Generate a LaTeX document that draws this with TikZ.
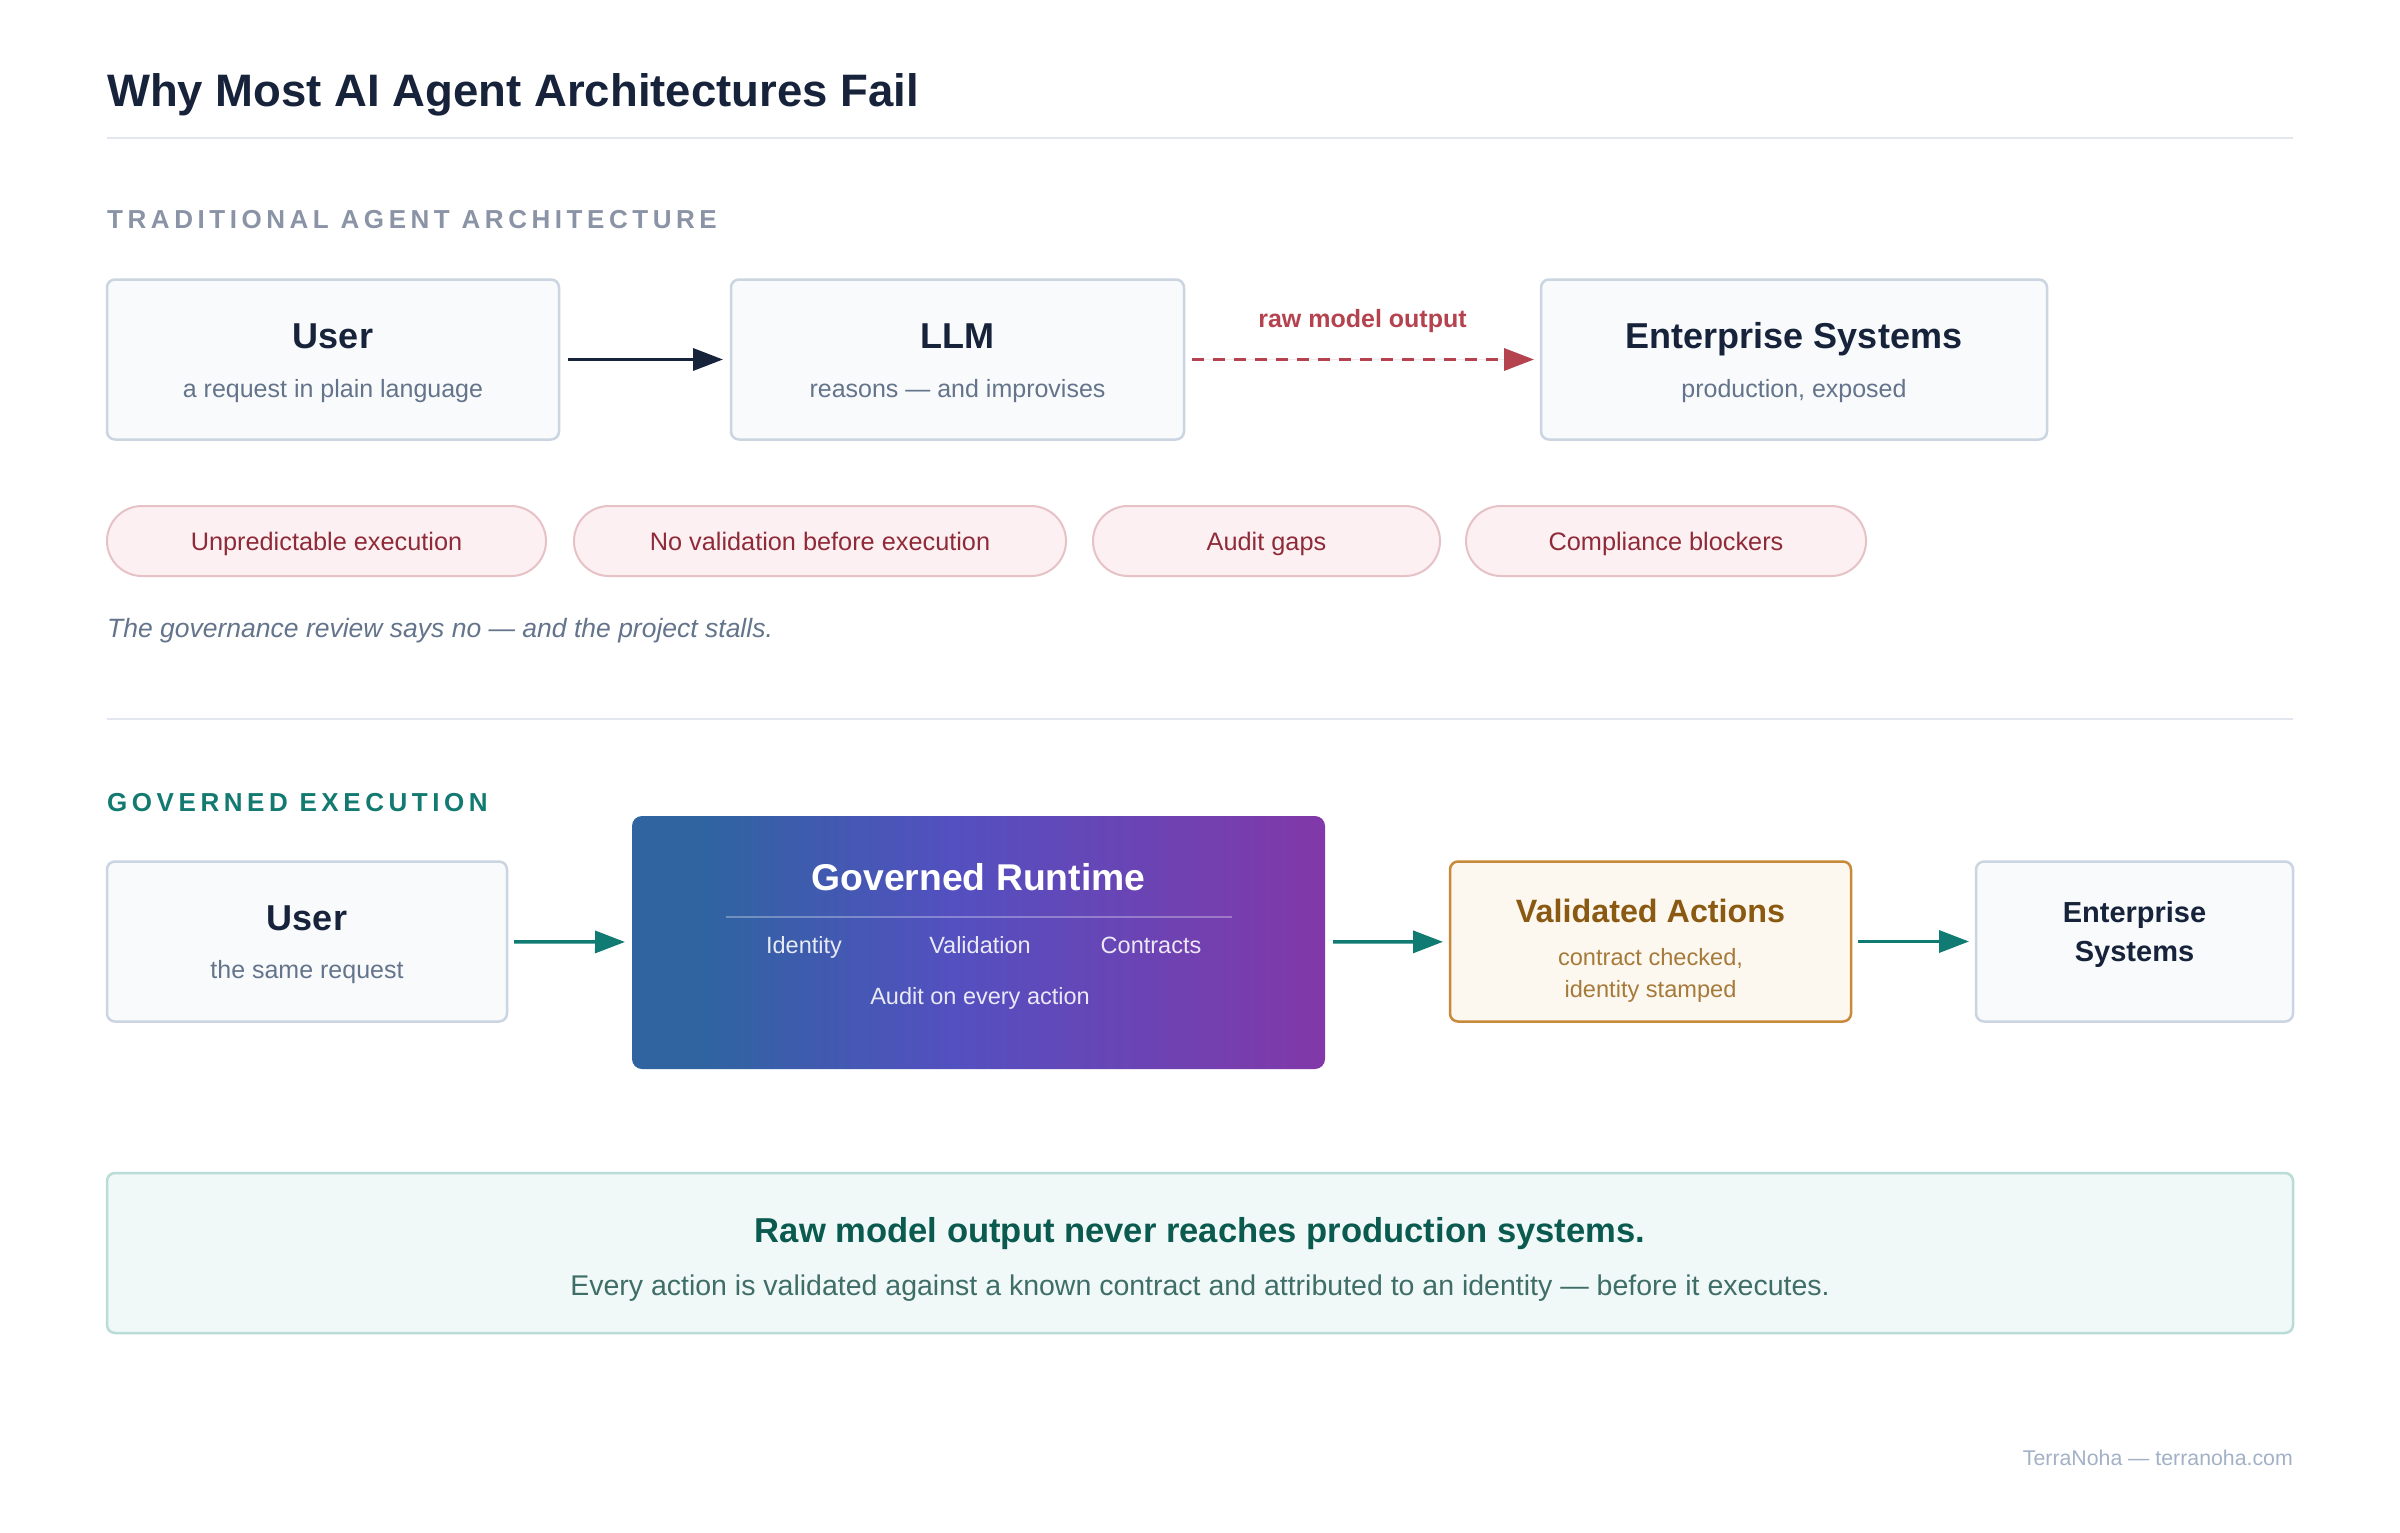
\documentclass[tikz,border=0pt]{standalone}
\usepackage{fontspec}
\setmainfont{Liberation Sans}
\newfontfamily\spacedfont[LetterSpace=17.5]{Liberation Sans}
\usetikzlibrary{arrows.meta}
\newcommand\setfs[2]{\fontsize{#1pt}{#2pt}\selectfont}
\definecolor{navy}{HTML}{17233A}
\definecolor{slate}{HTML}{64748B}
\definecolor{boxline}{HTML}{CBD5E1}
\definecolor{boxfill}{HTML}{F8FAFC}
\definecolor{headgray}{HTML}{8A94A6}
\definecolor{rulec}{HTML}{E2E8F0}
\definecolor{rawred}{HTML}{B4434F}
\definecolor{pillfill}{HTML}{FCF0F2}
\definecolor{pillline}{HTML}{E6C2C7}
\definecolor{pilltext}{HTML}{8F2B38}
\definecolor{tealh}{HTML}{127A70}
\definecolor{tealarr}{HTML}{0F7B72}
\definecolor{vafill}{HTML}{FDF8EF}
\definecolor{valine}{HTML}{C8893A}
\definecolor{vatitle}{HTML}{8A5A12}
\definecolor{vasub}{HTML}{A57A3B}
\definecolor{banfill}{HTML}{F0F9F8}
\definecolor{banline}{HTML}{B9DCD8}
\definecolor{bantitle}{HTML}{0B5A50}
\definecolor{bansub}{HTML}{3F6E68}
\definecolor{footc}{HTML}{A3B1C6}
\definecolor{grL}{HTML}{2F64A0}
\definecolor{grM}{HTML}{5350C0}
\definecolor{grR}{HTML}{8238A8}
\pgfdeclarehorizontalshading{grtshade}{100bp}{color(0bp)=(grL); color(25bp)=(grL); color(30bp)=(grL); color(48bp)=(grM); color(75bp)=(grR); color(100bp)=(grR)}
\begin{document}
\begin{tikzpicture}[x=1pt,y=-1pt,
  box/.style={rectangle, draw=boxline, fill=boxfill, line width=2.5pt, rounded corners=8pt, inner sep=0pt, outer sep=0pt},
  btitle/.style={anchor=base, inner sep=0pt, text=navy, font=\setfs{36}{43}\bfseries},
  bsub/.style={anchor=base, inner sep=0pt, text=slate, font=\setfs{25}{30}},
  pill/.style={rectangle, draw=pillline, fill=pillfill, line width=2pt, rounded corners=35pt, minimum height=70pt, inner sep=0pt, outer sep=0pt, text=pilltext, font=\setfs{25.3}{30}, text height=18pt, text depth=0pt},
  arrowhd/.style={-{Triangle[length=30pt,width=22pt]}},
  darr/.style={arrowhd, draw=navy, fill=navy, line width=3.5pt},
  tarr/.style={arrowhd, draw=tealarr, fill=tealarr, line width=3.5pt},
  rarr/.style={arrowhd, draw=rawred, fill=rawred, line width=3.5pt, dash pattern=on 12pt off 9pt},
  sechead/.style={anchor=base west, inner sep=0pt, font=\spacedfont\bfseries\setfs{26}{31}},
  rulestyle/.style={draw=rulec, line width=2pt}
]
\useasboundingbox (0,0) rectangle (2400,1533);
\fill[white] (0,0) rectangle (2400,1533);

% title
\node[anchor=base west, inner sep=0pt, text=navy, font=\setfs{45.5}{54}\bfseries] (title) at (107,107) {Why Most AI Agent Architectures Fail};
\coordinate (r1a) at (107,138); \coordinate (r1b) at (2293,138);
\draw[rulestyle] (r1a) -- (r1b);

% traditional
\node[sechead, text=headgray] (head1) at (107,229) {TRADITIONAL AGENT ARCHITECTURE};

\node[box, minimum width=452pt, minimum height=160pt] (u1) at (333,359.5) {};
\node[btitle] (u1t) at (333,348) {User};
\node[bsub] (u1s) at (333,397) {a request in plain language};

\node[box, minimum width=453pt, minimum height=160pt] (llm) at (957.5,359.5) {};
\node[btitle] (llmt) at (957.5,348) {LLM};
\node[bsub] (llms) at (957.5,397) {reasons — and improvises};

\node[box, minimum width=506pt, minimum height=160pt] (ent1) at (1794,359.5) {};
\node[btitle] (ent1t) at (1794,348) {Enterprise Systems};
\node[bsub] (ent1s) at (1794,397) {production, exposed};

\draw[darr, shorten <=9pt, shorten >=8pt] (u1) -- (llm);
\draw[rarr, shorten <=8pt, shorten >=7pt] (llm) -- (ent1)
  node[pos=0.5, anchor=base, yshift=32pt, inner sep=0pt, text=rawred, font=\setfs{25}{30}\bfseries] (rawlbl) {raw model output};

\node[pill, minimum width=439pt] (p1) at (326.5,541) {Unpredictable execution};
\node[pill, minimum width=492pt] (p2) at (820,541) {No validation before execution};
\node[pill, minimum width=347pt] (p3) at (1266.5,541) {Audit gaps};
\node[pill, minimum width=400pt] (p4) at (1666,541) {Compliance blockers};

\node[anchor=base west, inner sep=0pt, text=slate, font=\setfs{26.5}{32}\itshape] (note) at (107,637) {The governance review says no — and the project stalls.};

\coordinate (r2a) at (107,719); \coordinate (r2b) at (2293,719);
\draw[rulestyle] (r2a) -- (r2b);

% governed
\node[sechead, text=tealh] (head2) at (107,811) {GOVERNED EXECUTION};

\node[box, minimum width=400pt, minimum height=160pt] (u2) at (307,941.5) {};
\node[btitle] (u2t) at (307,930) {User};
\node[bsub] (u2s) at (307,978) {the same request};

\node[rectangle, rounded corners=10pt, shading=grtshade, minimum width=693pt, minimum height=253pt, inner sep=0pt, outer sep=0pt] (gr) at (978.5,942.5) {};
\node[anchor=base, inner sep=0pt, text=white, font=\setfs{37.3}{44}\bfseries] (grt) at (978.5,890) {Governed Runtime};
\coordinate (gla) at (726,917); \coordinate (glb) at (1232,917);
\draw[draw=white, draw opacity=0.3, line width=2pt] (gla) -- (glb);
\node[anchor=base, inner sep=0pt, text=white, text opacity=0.88, font=\setfs{23.5}{28}] (gri) at (804,953) {Identity};
\node[anchor=base, inner sep=0pt, text=white, text opacity=0.88, font=\setfs{23.5}{28}] (grv) at (980,953) {Validation};
\node[anchor=base, inner sep=0pt, text=white, text opacity=0.88, font=\setfs{23.5}{28}] (grc) at (1151,953) {Contracts};
\node[anchor=base, inner sep=0pt, text=white, text opacity=0.88, font=\setfs{23.5}{28}] (gra) at (980,1004) {Audit on every action};

\node[box, draw=valine, fill=vafill, minimum width=401pt, minimum height=160pt] (va) at (1650.5,941.5) {};
\node[anchor=base, inner sep=0pt, text=vatitle, font=\setfs{32.3}{38}\bfseries] (vat) at (1650.5,922) {Validated Actions};
\node[anchor=base, inner sep=0pt, text=vasub, font=\setfs{23.6}{28}] (vas1) at (1650.5,965) {contract checked,};
\node[anchor=base, inner sep=0pt, text=vasub, font=\setfs{23.6}{28}] (vas2) at (1650.5,997) {identity stamped};

\node[box, minimum width=317pt, minimum height=160pt] (ent2) at (2134.5,941.5) {};
\node[anchor=base, inner sep=0pt, text=navy, font=\setfs{29}{35}\bfseries] (ent2a) at (2134.5,922) {Enterprise};
\node[anchor=base, inner sep=0pt, text=navy, font=\setfs{29}{35}\bfseries] (ent2b) at (2134.5,961) {Systems};

\draw[tarr, shorten <=7pt, shorten >=7pt] (u2) -- (gr);
\draw[tarr, shorten <=8pt, shorten >=7pt] (gr) -- (va);
\draw[tarr, shorten <=7pt, shorten >=7pt] (va) -- (ent2);

% banner
\node[box, draw=banline, fill=banfill, minimum width=2186pt, minimum height=160pt] (ban) at (1200,1253) {};
\node[anchor=base, inner sep=0pt, text=bantitle, font=\setfs{34.6}{41}\bfseries] (bant) at (1200,1242) {Raw model output never reaches production systems.};
\node[anchor=base, inner sep=0pt, text=bansub, font=\setfs{28.5}{34}] (bans) at (1200,1295) {Every action is validated against a known contract and attributed to an identity — before it executes.};

\node[anchor=base east, inner sep=0pt, text=footc, font=\setfs{21.3}{26}] (foot) at (2293,1465) {TerraNoha — terranoha.com};
\end{tikzpicture}
\end{document}
